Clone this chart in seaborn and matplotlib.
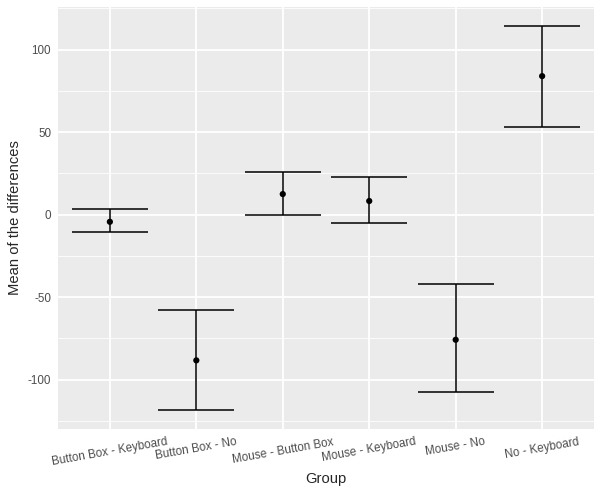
import matplotlib
matplotlib.use("Agg")
import matplotlib.pyplot as plt
import seaborn as sns
import pandas as pd
from matplotlib.ticker import MultipleLocator

# Mean of the differences with lower / upper bounds per group
groups = ["Button Box - Keyboard", "Button Box - No", "Mouse - Button Box",
          "Mouse - Keyboard", "Mouse - No", "No - Keyboard"]
means = [-4.4, -88.4, 12.4, 8.2, -75.9, 83.9]
lower = [-10.4, -118.7, 0.0, -5.0, -107.4, 53.0]
upper = [3.2, -57.7, 25.8, 22.7, -41.9, 114.2]

df = pd.DataFrame({"Group": groups, "mean": means, "lwr": lower, "upr": upper})

sns.set_theme(style="darkgrid", rc={
    "axes.facecolor": "#EBEBEB",
    "grid.color": "white",
    "axes.edgecolor": "#EBEBEB",
})
plt.rcParams["font.family"] = ["Liberation Sans", "DejaVu Sans"]
plt.rcParams["axes.unicode_minus"] = False

fig = plt.figure(figsize=(6.01, 4.95), dpi=100)
ax = fig.add_axes([58 / 601, 1 - 429 / 495, (594 - 58) / 601, (429 - 7) / 495])

sns.scatterplot(data=df, x="Group", y="mean", color="black", s=20,
                edgecolor="none", zorder=4, ax=ax)
ax.errorbar(df["Group"], df["mean"],
            yerr=[df["mean"] - df["lwr"], df["upr"] - df["mean"]],
            fmt="none", ecolor="black", elinewidth=1.1, capsize=27.7,
            capthick=1.1, zorder=3)

ax.set_xlim(-0.6, 5.6)
ax.set_ylim(-130, 125.8)
ax.yaxis.set_major_locator(MultipleLocator(50))
ax.yaxis.set_minor_locator(MultipleLocator(25))
ax.grid(which="major", color="white", linewidth=1.3)
ax.grid(which="minor", axis="y", color="white", linewidth=0.6)
ax.set_axisbelow(True)
for s in ax.spines.values():
    s.set_visible(False)

ax.tick_params(axis="both", which="major", length=3, width=1, color="#333333",
               labelsize=8.4, labelcolor="#4D4D4D", pad=2)
ax.tick_params(axis="both", which="minor", length=0)
plt.setp(ax.get_xticklabels(), rotation=10, ha="center")

ax.set_xlabel("Group", fontsize=10.6, labelpad=3)
ax.set_ylabel("Mean of the differences", fontsize=10.6, labelpad=4)

fig.savefig("out.png", dpi=100)
